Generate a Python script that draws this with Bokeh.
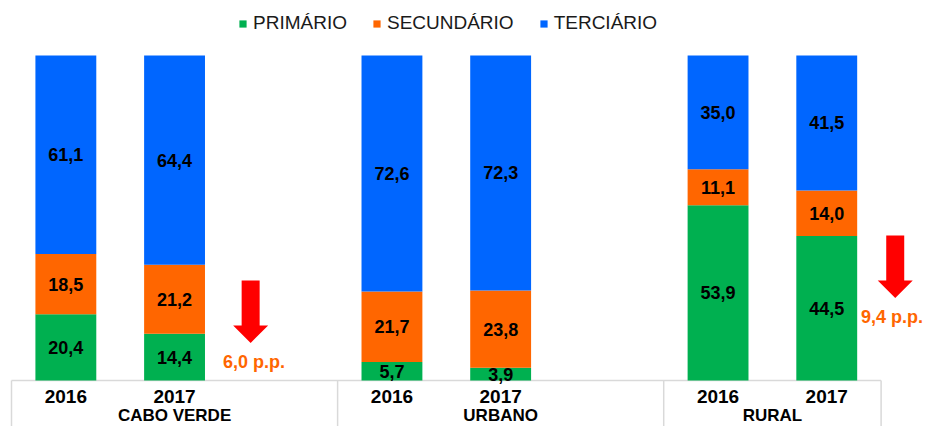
from bokeh.plotting import figure
from bokeh.models import ColumnDataSource, Range1d, Legend, LegendItem
from bokeh.core.properties import value
from bokeh.embed import file_html
from bokeh.resources import INLINE

# ---------------- data ----------------
groups = ["CABO VERDE", "URBANO", "RURAL"]
years = ["2016", "2017"]
group_slots = [3, 3, 2]          # category slots per group (3rd slot = empty gap)
series_names = ["PRIMÁRIO", "SECUNDÁRIO", "TERCIÁRIO"]
primario = [20.4, 14.4, 5.7, 3.9, 53.9, 44.5]
secundario = [18.5, 21.2, 21.7, 23.8, 11.1, 14.0]
terciario = [61.1, 64.4, 72.6, 72.3, 35.0, 41.5]
colors = ["#00B050", "#FF6600", "#0066FF"]

# annotated drops of the primary sector (group, arrow x in slot units, shaft top value)
arrow_groups = ["CABO VERDE", "RURAL"]
arrow_x = [1.70, 7.63]
arrow_top = [30.8, 44.6]
label_dx = [0.03, -0.03]

# ---------------- layout constants ----------------
W, H = 927, 426
SLOT = 108.7            # px per category slot
PXY = 3.25              # px per percentage unit
ZERO_FROM_TOP = 380     # px from top of frame to value 0
LEFT_PAD = 11           # px from frame left to first slot edge
FONT = "Liberation Sans"

x_start = -0.5 - LEFT_PAD / SLOT
x_end = x_start + W / SLOT
y_top = ZERO_FROM_TOP / PXY
y_bot = -(H - ZERO_FROM_TOP) / PXY

p = figure(width=W, height=H, output_backend="svg", toolbar_location=None,
           x_range=Range1d(x_start, x_end), y_range=Range1d(y_bot, y_top),
           x_axis_location=None, y_axis_location=None,
           min_border=0, min_border_left=0, min_border_right=0,
           min_border_top=0, min_border_bottom=0)
p.outline_line_color = None
p.xgrid.visible = False
p.ygrid.visible = False
p.background_fill_color = "white"
p.border_fill_color = "white"

# slot positions
group_start = []
acc = 0
for n in group_slots:
    group_start.append(acc)
    acc += n
bar_x = []
bar_year = []
for gi, g in enumerate(groups):
    for yi, yr in enumerate(years):
        bar_x.append(group_start[gi] + yi)
        bar_year.append(yr)

# table lines (category axis box)
bounds = [b - 0.5 for b in group_start] + [acc - 0.5]
p.segment(x0=bounds, y0=[0] * len(bounds), x1=bounds, y1=[y_bot] * len(bounds),
          line_color="#D9D9D9", line_width=1.5)
p.segment(x0=[bounds[0]], y0=[0], x1=[bounds[-1]], y1=[0],
          line_color="#D9D9D9", line_width=1.5)

# stacked bars
src = ColumnDataSource(dict(x=bar_x, p=primario, s=secundario, t=terciario))
rs = p.vbar_stack(["p", "s", "t"], x="x", width=0.56, color=colors,
                  line_color=None, source=src)

# value labels
lx, ly, lt = [], [], []
for i in range(len(bar_x)):
    base = 0.0
    for vals in (primario, secundario, terciario):
        v = vals[i]
        lx.append(bar_x[i])
        ly.append(base + v / 2)
        lt.append(f"{v:.1f}".replace(".", ","))
        base += v
p.text(x=lx, y=ly, text=lt, text_font=value(FONT), text_font_style="bold",
       text_font_size="18px", text_align="center", text_baseline="middle",
       text_color="black")

# year labels
p.text(x=bar_x, y=[-16 / PXY] * len(bar_x), text=bar_year, text_font=value(FONT),
       text_font_style="bold", text_font_size="19px", text_align="center",
       text_baseline="middle", text_color="black")
# group labels
gx = [group_start[i] + (group_slots[i] - 1) / 2 for i in range(len(groups))]
p.text(x=gx, y=[-35 / PXY] * len(groups), text=groups, text_font=value(FONT),
       text_font_style="bold", text_font_size="17px", text_align="center",
       text_baseline="middle", text_color="black")

# arrows and p.p. annotations
sw = 9 / SLOT
hw = 17.5 / SLOT
shaft = 45 / PXY
head = 17.5 / PXY
axs, ays, tx, ty, tt = [], [], [], [], []
for g, ax, top, dx in zip(arrow_groups, arrow_x, arrow_top, label_dx):
    gi = groups.index(g)
    i0 = gi * len(years)
    diff = primario[i0] - primario[i0 + 1]
    hs = top - shaft
    tip = hs - head
    axs.append([ax - sw, ax + sw, ax + sw, ax + hw, ax, ax - hw, ax - sw])
    ays.append([top, top, hs, hs, tip, hs, hs])
    tx.append(ax + dx)
    ty.append(tip - 19 / PXY)
    tt.append(f"{diff:.1f}".replace(".", ",") + " p.p.")
p.patches(xs=axs, ys=ays, fill_color="#FF0000", line_color=None)
p.text(x=tx, y=ty, text=tt, text_font=value(FONT), text_font_style="bold",
       text_font_size="18px", text_align="center", text_baseline="middle",
       text_color="#FF6600")

# legend
legend = Legend(items=[LegendItem(label=n, renderers=[r]) for n, r in zip(series_names, rs)],
                orientation="horizontal", location=(238, 392),
                glyph_width=9, glyph_height=9, label_standoff=6, spacing=25,
                padding=0, margin=0, border_line_color=None,
                background_fill_alpha=0, label_text_font=FONT,
                label_text_font_size="19px", label_height=20,
                label_text_color="#1A1A1A")
p.add_layout(legend)

open("out.html", "w").write(file_html(p, INLINE))
